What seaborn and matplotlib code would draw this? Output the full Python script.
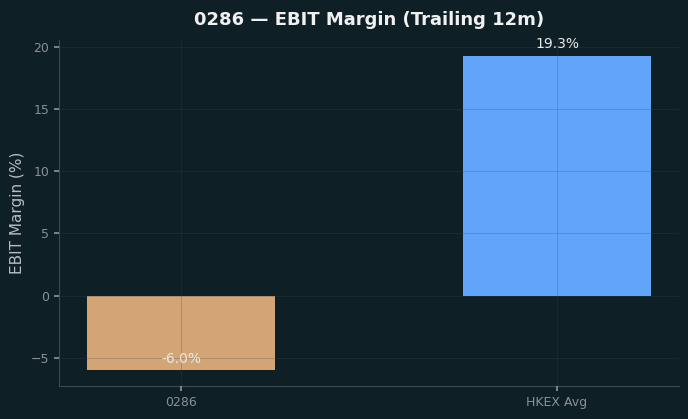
import matplotlib
matplotlib.use("Agg")
import matplotlib.pyplot as plt
import seaborn as sns
import pandas as pd

categories = ["0286", "HKEX Avg"]
values = [-6.0, 19.3]
labels = ["-6.0%", "19.3%"]
colors = ["#d4a574", "#60a5fa"]

bg = "#0f1f26"
sns.set_theme(style="dark")
plt.rcParams['font.family'] = ['DejaVu Sans']

fig, ax = plt.subplots(figsize=(6.88, 4.19), dpi=100)
fig.patch.set_facecolor(bg)
ax.set_facecolor(bg)

df = pd.DataFrame({"cat": categories, "val": values})
sns.barplot(data=df, x="cat", y="val", hue="cat", palette=colors, width=0.5,
            ax=ax, legend=False, saturation=1, alpha=1.0, linewidth=0,
            edgecolor="none", zorder=2)
ax.set_xlim(-0.325, 1.325)

ax.grid(True, color="#3a4a52", linewidth=0.6, alpha=0.3, zorder=3)
ax.set_axisbelow(False)

for i, (v, lab) in enumerate(zip(values, labels)):
    ax.text(i, v + 0.35, lab, ha="center", va="bottom", color="#e8e8e8", fontsize=10, zorder=4)

ax.set_title("0286 — EBIT Margin (Trailing 12m)", color="#f0f0f0", fontsize=13,
             fontweight="bold", pad=11)
ax.set_ylabel("EBIT Margin (%)", color="#b8bcc0", fontsize=11)
ax.set_xlabel("")
ax.tick_params(colors="#8a9096", labelsize=9, length=3.5)
ax.tick_params(axis="both", which="both", bottom=True, left=True, color="#8a9096")
for s in ["top", "right"]:
    ax.spines[s].set_visible(False)
for s in ["left", "bottom"]:
    ax.spines[s].set_visible(True)
    ax.spines[s].set_color("#3c4a50")
    ax.spines[s].set_linewidth(0.8)

fig.subplots_adjust(left=0.086, right=0.987, top=0.905, bottom=0.079)
fig.savefig("out.png", dpi=100, facecolor=bg)
